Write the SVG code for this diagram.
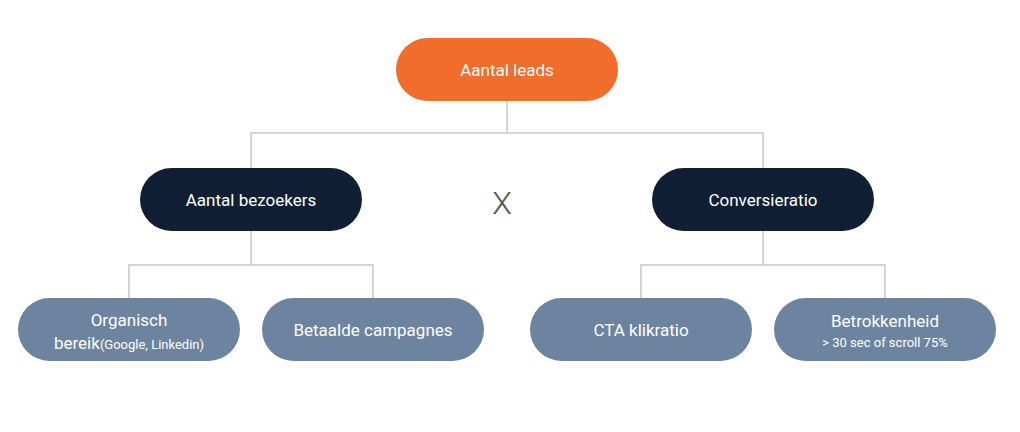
<svg xmlns="http://www.w3.org/2000/svg" width="1020" height="432" viewBox="0 0 1020 432">
<style>
text{font-family:Roboto,"Liberation Sans",sans-serif;fill:#fff;text-anchor:middle;font-size:17px}
.c{fill:none;stroke:#c8c8c8;stroke-width:1.5}
.s{font-size:13px}
</style>
<rect width="1020" height="432" fill="#fff"/>
<g id="connectors">
<path class="c" d="M507 101V133M251 168V133H763V168M251 231V265M129 298V265H373V298M763 231V265M641 298V265H885V298"/>
</g>
<g id="n-leads"><rect x="396" y="38" width="222" height="63" rx="31.5" fill="#F26C2B"/><text x="507" y="76">Aantal leads</text></g>
<g id="n-bezoekers"><rect x="140" y="168" width="222" height="63" rx="31.5" fill="#111F35"/><text x="251" y="206">Aantal bezoekers</text></g>
<g id="n-conv"><rect x="652" y="168" width="222" height="63" rx="31.5" fill="#111F35"/><text x="763" y="206">Conversieratio</text></g>
<text x="502" y="214" style="fill:#555;font-size:32px;font-weight:300">X</text>
<g id="n-organisch"><rect x="18" y="298" width="222" height="63" rx="31.5" fill="#6C84A0"/><text x="129" y="326">Organisch</text><text x="129" y="349">bereik<tspan class="s">(Google, Linkedin)</tspan></text></g>
<g id="n-betaald"><rect x="262" y="298" width="222" height="63" rx="31.5" fill="#6C84A0"/><text x="373" y="336">Betaalde campagnes</text></g>
<g id="n-cta"><rect x="530" y="298" width="222" height="63" rx="31.5" fill="#6C84A0"/><text x="641" y="336">CTA klikratio</text></g>
<g id="n-betrok"><rect x="774" y="298" width="222" height="63" rx="31.5" fill="#6C84A0"/><text x="885" y="327">Betrokkenheid</text><text x="885" y="347" class="s">&gt; 30 sec of scroll 75%</text></g>
</svg>
